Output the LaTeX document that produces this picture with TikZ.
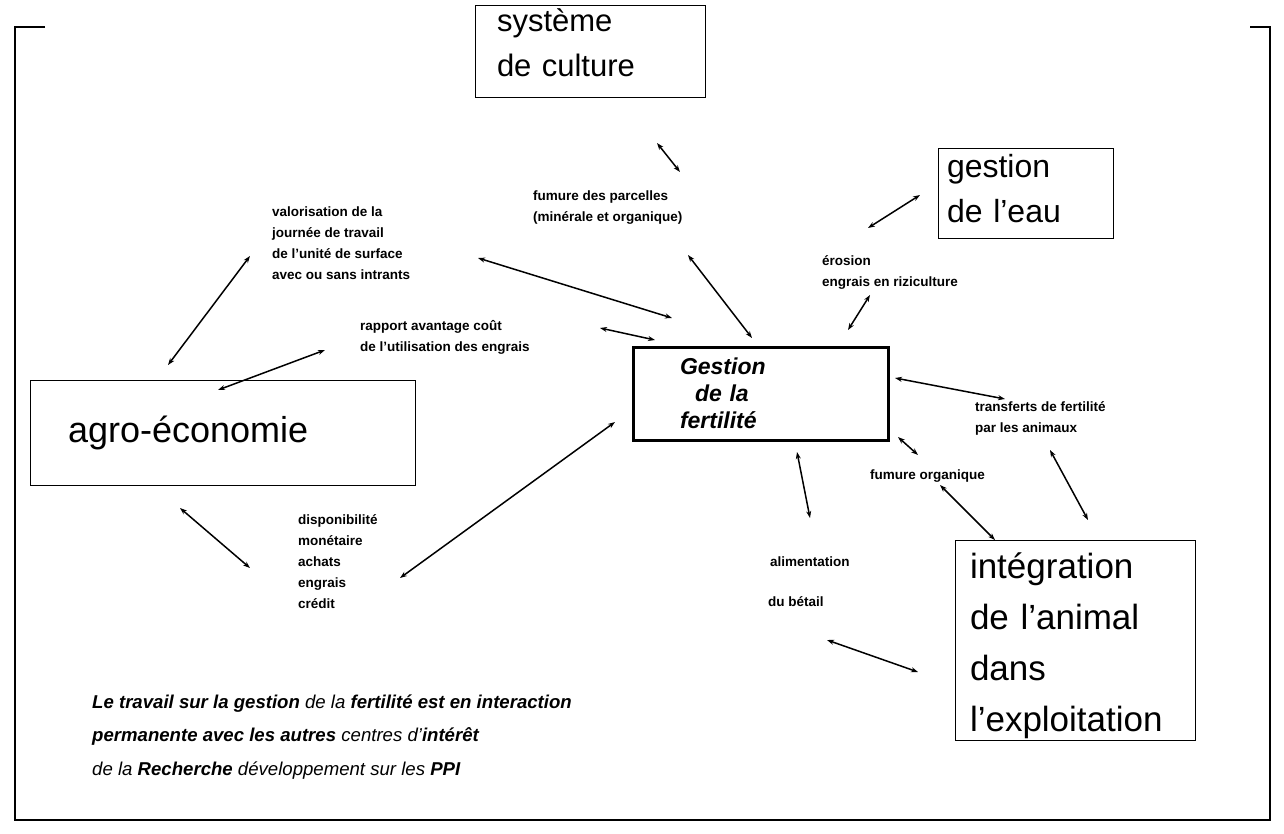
\documentclass[tikz,border=0pt]{standalone}
\usepackage{fontspec}
\setmainfont{Liberation Sans}
\usetikzlibrary{arrows.meta}
\begin{document}
\begin{tikzpicture}[x=1pt,y=-1pt,
  box/.style={draw, line width=1pt, rectangle, align=left, inner ysep=0pt},
  lbl/.style={anchor=base west, inner sep=0pt, align=left,
              font=\fontsize{13.5}{21}\selectfont\bfseries},
  link/.style={{Stealth[length=7pt,width=5pt]}-{Stealth[length=7pt,width=5pt]}, line width=1.5pt},
  framepart/.style={line width=2pt}]
\useasboundingbox (0,0) rectangle (1284,833);

% outer frame
\draw[framepart] (45,27) -- (15,27) -- (15,820) -- (1270,820) -- (1270,27) -- (1250,27);

% main boxes (rules only tune the vertical placement of the text)
\node[box, minimum width=230, minimum height=92, inner xsep=22, text width=186,
      font=\fontsize{31}{45}\selectfont] (sys) at (590,51)
      {système\\de culture\rule[-17pt]{0pt}{17pt}};
\node[box, minimum width=175, minimum height=90, inner xsep=9, text width=157,
      font=\fontsize{32}{45}\selectfont] (eau) at (1025.5,193)
      {gestion\\de l’eau\rule[-10pt]{0pt}{10pt}};
\node[box, line width=3pt, minimum width=255, minimum height=93, inner xsep=47, text width=161,
      font=\fontsize{23}{27}\selectfont\bfseries\itshape] (fert) at (760.5,393.5)
      {Gestion\\\hspace*{15pt}de la\\fertilité};
\node[box, minimum width=385, minimum height=105, inner xsep=38, text width=309,
      font=\fontsize{36}{40}\selectfont] (agro) at (222.5,432.5) {agro-économie};
\node[box, minimum width=240, minimum height=200, inner xsep=15, text width=210,
      font=\fontsize{35}{51}\selectfont] (integ) at (1075,640)
      {\rule{0pt}{38pt}intégration\\de l’animal\\dans\\l’exploitation};

% small labels (positioned by the baseline of their last line)
\node[lbl] (fum) at (533,221) {fumure des parcelles\\(minérale et organique)};
\node[lbl] (val) at (272,279) {valorisation de la\\journée de travail\\de l'unité de surface\\avec ou sans intrants};
\node[lbl] (rap) at (360,351) {rapport avantage coût\\de l'utilisation des engrais};
\node[lbl] (ero) at (822,286) {érosion\\engrais en riziculture};
\node[lbl] (tra) at (975,432) {transferts de fertilité\\par les animaux};
\node[lbl] (fo) at (870,479) {fumure organique};
\node[lbl] (dis) at (298,608) {disponibilité\\monétaire\\achats\\engrais\\crédit};
\node[lbl] (alim) at (770,566) {alimentation};
\node[lbl] (bet) at (768,606) {du bétail};

% closing statement
\node[anchor=base west, inner sep=0pt, align=left,
      font=\fontsize{18.6}{33.5}\selectfont\itshape] (note) at (92,775)
  {\textbf{Le travail sur la gestion} de la \textbf{fertilité est en interaction}\\
   \textbf{permanente avec les autres} centres d’\textbf{intérêt}\\
   de la \textbf{Recherche} développement sur les \textbf{PPI}};

% connector end points
\coordinate (s1) at (657,143);  \coordinate (e1) at (680,172);
\coordinate (s2) at (688,255);  \coordinate (e2) at (752,338);
\coordinate (s3) at (478,258);  \coordinate (e3) at (672,318);
\coordinate (s4) at (600,328);  \coordinate (e4) at (655,340);
\coordinate (s5) at (868,228);  \coordinate (e5) at (920,195);
\coordinate (s6) at (848,330);  \coordinate (e6) at (870,295);
\coordinate (s7) at (895,378);  \coordinate (e7) at (1005,399);
\coordinate (s8) at (898,437);  \coordinate (e8) at (918,455);
\coordinate (s9) at (1050,450); \coordinate (e9) at (1088,520);
\coordinate (s10) at (940,485); \coordinate (e10) at (995,540);
\coordinate (s11) at (797,452); \coordinate (e11) at (810,518);
\coordinate (s12) at (827,640); \coordinate (e12) at (918,672);
\coordinate (s13) at (400,578); \coordinate (e13) at (615,422);
\coordinate (s14) at (180,508); \coordinate (e14) at (250,568);
\coordinate (s15) at (168,365); \coordinate (e15) at (250,256);
\coordinate (s16) at (218,390); \coordinate (e16) at (325,350);

% double-headed connectors
\foreach \i in {1,...,16} {\draw[link] (s\i) -- (e\i);}
\end{tikzpicture}
\end{document}
